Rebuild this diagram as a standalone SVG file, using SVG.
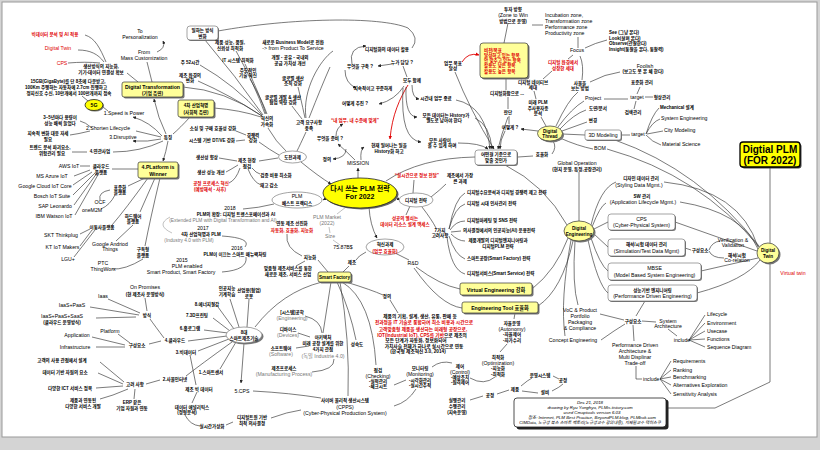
<svg xmlns="http://www.w3.org/2000/svg" width="820" height="450" viewBox="0 0 820 450">
<defs>
<style>
text{font-family:"Liberation Sans","Noto Sans CJK KR",sans-serif;font-size:5.2px;fill:#000;text-anchor:middle}
.k{font-size:4.5px;font-weight:600}
.r{fill:#e00000}
.g{fill:#777}
.s{text-anchor:start}
.b{font-weight:bold}
.i{font-style:italic}
.ln{fill:none;stroke:#333;stroke-width:.65}
.lg{fill:none;stroke:#999;stroke-width:.6}
.lr{fill:none;stroke:#e00000;stroke-width:.9}
.ar{marker-end:url(#ah)}
.yb{fill:#ffff99;stroke:#333;stroke-width:.7}
.yy{fill:#ffff00;stroke:#222;stroke-width:.8}
.wb{fill:#fff;stroke:#666;stroke-width:.6}
.sh{fill:#777}
</style>
<marker id="ah" viewBox="0 0 6 6" refX="5.5" refY="3" markerWidth="5" markerHeight="5" orient="auto"><path d="M0,0L6,3L0,6z" fill="#222"/></marker>
<marker id="ahr" viewBox="0 0 6 6" refX="5.5" refY="3" markerWidth="4" markerHeight="4" orient="auto"><path d="M0,0L6,3L0,6z" fill="#e00000"/></marker>
</defs>
<rect width="820" height="450" fill="#d4d4d4"/>
<rect x="2" y="2" width="815" height="435" fill="#fff" stroke="#999" stroke-width="1"/>

<g id="connectors">
<path class="ln" d="M106,62C100,48 95,38 85,35M104,62C98,54 90,50 78,50M100,63C90,62 80,62 68,63M127,73L138,82M152,82L147,62"/>
<path class="ln ar" d="M157,52Q166,48 163,41"/>
<path class="ln ar" d="M166,134Q158,118 154,99"/>
<path class="ln ar" d="M162,136Q150,122 133,117"/>
<path class="ln" d="M161,137L136,131M163,141Q140,152 113,152M190,117Q180,128 173,134M103,107L108,111M88,101L82,96M92,128Q85,122 80,121M90,131Q78,134 70,135M87,152L72,152"/>
<path class="ln ar" d="M161,139Q148,142 133,141"/>
<path class="ln ar" d="M168,141Q166,152 163,161"/>
<path class="ln" d="M183,87Q225,90 262,116M214,108Q240,110 261,117M205,40Q235,75 263,115M200,65Q235,85 262,115M198,81Q230,95 262,116M236,51Q255,85 265,114M245,64Q260,95 266,114M250,79Q262,100 267,114M268,128Q276,142 286,151M259,142Q270,150 279,155M236,131L246,135M236,141L245,140M306,132Q300,145 297,151M306,118C302,90 320,60 333,51M309,118Q322,85 330,67M305,118Q300,95 298,87M302,119Q295,110 292,106M218,31C290,18 380,16 408,28Q420,38 412,48"/>
<path class="ln" d="M278,158L259,161M237,161L219,158M238,165Q230,170 226,172M240,168Q236,180 229,183M252,168Q256,173 260,174M248,169Q253,182 261,185"/>
<path class="ln ar" d="M301,162Q318,176 331,184"/>
<path class="ln ar" d="M327,198L323,200"/>
<path class="ln" d="M274,204Q258,208 243,209M222,236Q252,238 245,247M246,257Q248,270 222,272"/>
<path class="lg" d="M170,217Q155,225 172,233"/>
<path class="ln ar" d="M358,178L358,168"/>
<path class="ln ar" d="M346,149Q346,158 333,159"/>
<path class="ln ar" d="M355,160Q345,150 338,144"/>
<path class="ln ar" d="M361,160Q360,150 364,147"/>
<path class="ln ar" d="M336,136Q336,128 343,124"/>
<path class="ln ar" d="M404,86Q395,100 379,104"/>
<path class="ln ar" d="M345,70Q345,83 356,88"/>
<path class="ln ar" d="M392,64L378,66"/>
<path class="ln ar" d="M352,64Q348,47 366,46"/>
<path class="ln" d="M403,66L407,77"/>
<path class="lr" marker-end="url(#ahr)" d="M408,85C400,98 392,115 390,139"/>
<path class="ln ar" d="M412,85Q412,98 419,99"/>
<path class="ln ar" d="M406,87Q405,117 417,117"/>
<path class="ln ar" d="M403,88Q400,140 421,142"/>
<path class="ln ar" d="M456,100Q486,106 490,149"/>
<path class="ln ar" d="M475,118Q490,125 492,149"/>
<path class="ln ar" d="M458,143Q480,143 488,149"/>
<path class="ln ar" d="M455,72Q470,110 494,149"/>
<path class="ln ar" d="M508,117Q501,135 498,149"/>
<path class="ln ar" d="M505,131Q500,140 500,149"/>
<path class="lr" marker-end="url(#ahr)" d="M462,62Q468,52 479,55"/>
<path class="ln" d="M506,78L506,90M508,97L508,109M509,116L509,124M508,23L504,43M532,25L543,25M578,48L578,37M585,48Q595,43 607,40M573,55L568,59M552,71L543,79M534,91L536,99M582,80Q584,65 580,56M590,82Q605,74 620,72M556,126Q568,100 578,92M546,126L541,117"/>
<path class="ln ar" d="M538,131L521,129"/>
<path class="ln" d="M558,127Q572,108 584,101M560,129Q574,114 586,110M562,131L587,122M562.5,134L585,135M560,138Q578,146 593,149M604,99L628,99M637,94L640,87M645,97L653,97M636,101L634,109M621,135L630,135M646,134Q652,115 659,108M646,134Q652,122 660,119M647,134L663,131M646,135Q652,142 661,145M615,140Q700,170 759,246M607,149Q700,175 760,248M518,157L533,156M552,154Q557,147 553,141M579,172L579,221M505,165Q545,185 567,225M386,181Q420,158 475,157"/>
<path class="ln ar" d="M396,197Q398,199 400,200"/>
<path class="ln" d="M413,193L414,180M431,197Q440,190 446,184M410,206L406,215M422,207Q432,220 436,228M449,229Q455,198 465,193M449,229Q455,207 465,204M450,230Q456,221 465,221M451,232L461,231M451,234Q458,241 465,241M449,236Q455,255 465,259M447,237Q451,270 465,274"/>
<path class="ln ar" d="M369,207Q370,225 377,238"/>
<path class="lg" d="M346,207L337,214M329,227L330,233M333,240L340,245"/>
<path class="ln" d="M395,253L409,260M416,267Q440,285 460,289M414,268Q440,305 462,308M532,289Q556,270 568,238M538,306Q562,290 573,241M366,252Q358,256 356,260M349,266L343,272M318,260L328,272M302,256Q285,248 287,234M305,261L296,266M346,282Q372,290 383,295M390,300L398,313M322,282Q282,292 255,327M331,282L323,333M337,282Q350,310 356,340M342,282Q372,300 376,365M340,282Q350,340 348,396M305,316Q321,320 322,333M298,333L310,337M296,348L309,346M312,372Q335,370 334,359"/>
<path class="ln" d="M234,329L218,307M230,331L213,318M228,333L204,330M227,336L188,341M229,339L198,351M236,342L220,369M232,342Q200,365 186,376M230,299L239,327M249,299L247,327"/>
<path class="ln ar" d="M244,343L241,383"/>
<path class="ln" d="M164,338Q155,326 150,319M161,341L149,344M147,311L145,298M140,313L108,299M139,315L90,307M136,317L96,318M130,343L118,334M125,345L92,337M125,347L96,347M160,380L146,384M124,382L100,362M123,384L98,373M123,386L96,388M128,389Q112,396 100,399M135,389L134,399M190,355L196,385M197,392L192,403M185,415Q190,425 200,426M253,391Q290,393 321,398M271,418Q287,412 301,410M233,422L226,425M394,406Q408,402 416,389M394,385L406,380M432,367Q441,360 452,363M470,378Q484,386 495,377M500,352L507,344M515,313L514,319M509,390L497,394M521,386Q528,380 532,378M522,391L538,393M553,376L559,379M552,391Q560,387 563,384M483,396L470,400"/>
<path class="ln" d="M600,314L624,320M601,340Q615,330 625,324M645,301L636,316M642,321L656,322M633,325L634,341M668,329L677,336M689,340L705,315M689,340L705,323M689,340L705,331M689,340L705,339M689,340L705,347M636,366L636,379L642,379M660,379L671,361M660,379L671,370M660,379L671,377M660,379L671,385M660,379L671,394M575,241Q572,285 578,305M571,240Q560,300 565,336"/>
<path class="ln" d="M591,225Q600,188 616,182M592,227Q600,206 606,203M594,229L608,222M594,234L608,247M591,238Q600,265 608,271M588,240Q598,285 608,293M664,182Q740,190 758,247M680,202Q742,212 758,249M675,222L757,251M701,271L758,258M697,293Q745,280 760,260M685,248L691,250M709,250Q712,242 720,241M709,251Q712,258 724,258M770,167L770,243M770,263L770,382L715,408L668,408"/>
<path class="ln" d="M139,169L112,169M145,178L128,186M148,178Q125,210 112,225M155,178L140,212M160,178Q150,220 145,246M133,225L116,241M143,259Q125,270 112,269M90,166L80,166M90,170L74,176M92,172L73,185M95,173L73,195M97,173L74,205M99,173L75,215M110,190Q98,192 100,200M115,195Q110,205 101,209M90,229L80,234M92,230L80,246M95,230L74,257"/>
</g>

<g id="n-bigdata"><text class="k r" x="55" y="36">빅데이터 분석 및 AI 적용</text></g>
<g id="n-dtwin-red"><text class="r" x="58" y="50">Digital Twin</text></g>
<g id="n-cps-red"><text class="r" x="62" y="65">CPS</text></g>
<g id="n-to"><text x="140" y="33">To</text><text x="140" y="39">Personalization</text></g>
<g id="n-from"><text x="144" y="54">From</text><text x="144" y="60">Mass Customization</text></g>
<g id="n-smartprod"><text class="k" x="101" y="68">생산방식의 지능화,</text><text class="k" x="101" y="74">기기-데이터 연결성 확보</text></g>
<g id="n-15gb"><text class="k" x="68" y="83">15GB(GigaByte)를 단 8초에 다운받고,</text><text class="k" x="66" y="89">100Km 주행하는 자동차에 2.7cm 진행하고</text><text class="k" x="69" y="95">정지신호 수신, 10만개에서 100만개까지 접속</text></g>
<g id="n-5g"><ellipse cx="95" cy="106" rx="9" ry="5.5" class="sh"/><ellipse cx="94" cy="105" rx="9" ry="5.5" class="yy"/><text class="b" x="94" y="107">5G</text></g>
<g id="n-speed"><text x="124" y="115">1.Speed is Power</text></g>
<g id="n-3to5"><text class="k" x="60" y="119">3~5년마다 용량이</text><text class="k" x="60" y="125">성능 배씩 늘었다</text></g>
<g id="n-shorten"><text x="108" y="130">2.Shorten Lifecycle</text></g>
<g id="n-continuous"><text class="k" x="48" y="135">지속적 변화 대응 자세</text><text class="k" x="48" y="141">필요</text></g>
<g id="n-disruptive"><text x="123" y="139">3.Disruptive</text></g>
<g id="n-trend"><text class="k" x="50" y="149">트렌드 분석 파괴요소,</text><text class="k" x="52" y="155">위험관리 필요</text></g>
<g id="n-related"><text class="k" x="100" y="153">4.연관사업</text></g>
<g id="n-feature"><text class="k" x="168" y="139">특징</text></g>
<g id="n-dt"><rect x="123.5" y="83.5" width="61" height="15" rx="2" class="sh"/><rect x="122" y="82" width="61" height="15" rx="2" class="yb"/><text class="b" x="152.5" y="88.5">Digital Transformation</text><text class="k b" x="152.5" y="95">(기업 측면)</text></g>
<g id="n-4ir"><rect x="179.5" y="101.5" width="36" height="17" rx="2" class="sh"/><rect x="178" y="100" width="36" height="17" rx="2" class="yb"/><text class="k b" x="196" y="107">4차 산업혁명</text><text class="k b" x="196" y="114">(사회적 측면)</text></g>
<g id="n-work"><rect x="188" y="27" width="31" height="14" rx="3" class="sh"/><rect x="187" y="26" width="31" height="14" rx="3" class="wb"/><text class="k" x="202.5" y="32">일하는 방식</text><text class="k" x="202.5" y="38">변화</text></g>
<g id="n-52h"><text class="k" x="190" y="64">주 52시간</text></g>
<g id="n-mfgenv"><text class="k" x="190" y="77">제조 환경의</text><text class="k" x="190" y="82">변화</text></g>
<g id="n-perf"><text class="k" x="230" y="44">제품 성능, 품질,</text><text class="k" x="230" y="50">신뢰성 최적화</text></g>
<g id="n-it"><text class="k" x="238" y="62">IT 시스템 최적화</text></g>
<g id="n-lead"><text class="k" x="248" y="72">주도적인</text><text class="k" x="248" y="77">기술 혁신</text></g>
<g id="n-bm"><text class="k" x="293" y="44">새로운 Business Model로 전환</text><text x="293" y="50">-&gt; from Product To Service</text></g>
<g id="n-dev"><text class="k" x="290" y="59">개발 - 공유 - 국내외</text><text class="k" x="290" y="65">공급 가치성 개선</text></g>
<g id="n-gprod"><text class="k" x="293" y="80">글로벌 생산</text><text class="k" x="293" y="85">조직 강화</text></g>
<g id="n-gdev"><text class="k" x="283" y="99">글로벌 개발 &amp; 생산</text><text class="k" x="283" y="104">협업 역량 강화</text></g>
<g id="n-accel"><text class="k" x="267" y="120">혁신의</text><text class="k" x="267" y="126">가속화</text></g>
<g id="n-cust"><text class="k" x="309" y="124">고객 요구사항</text><text class="k" x="309" y="130">충족</text></g>
<g id="n-sourcing"><text class="k" x="213" y="130">소싱 및 구매 효율성 강화</text></g>
<g id="n-sysdt"><text class="k" x="212" y="142">시스템 기반 DT/VE 강화</text></g>
<g id="n-compet"><text class="k" x="253" y="137">경쟁력</text><text class="k" x="253" y="142">강화</text></g>
<g id="n-prepare"><text class="k" x="330" y="140">무엇을 준비 ?</text></g>

<g id="n-digdata"><text class="k" x="387" y="51">디지털화의 데이터 활용</text></g>
<g id="n-build"><text class="k" x="360" y="68">무엇을 구축 ?</text></g>
<g id="n-who"><text class="k" x="402" y="64">누가 담당 ?</text></g>
<g id="n-steady"><text class="k" x="373" y="90">지속적이고 꾸준하게</text></g>
<g id="n-together"><text class="k" x="412" y="82">모두 함께</text></g>
<g id="n-how"><text class="k" x="355" y="105">어떻게 추진 ?</text></g>
<g id="n-mylevel"><text class="k r b" x="355" y="122">“내 업무, 내 수준에 맞게”</text></g>
<g id="n-history"><text class="k" x="389" y="147">현재 일어나는 일을</text><text class="k" x="389" y="153">History화 하고</text></g>
<g id="n-worktime"><text class="k" x="436" y="100">시간내 업무 종료</text></g>
<g id="n-alldata"><text class="k" x="446" y="117">모든 데이터는 History가</text><text class="k" x="444" y="122">별도로 남아야 한다</text></g>
<g id="n-allpeople"><text class="k" x="440" y="142">모든 사람이</text><text class="k" x="442" y="147">볼 수 있게 하며</text></g>
<g id="n-goal"><text class="k" x="453" y="65">업무 목표</text><text class="k" x="453" y="70">달성</text></g>
<g id="n-vision"><rect x="481.5" y="44.5" width="48" height="35" rx="3" class="sh"/><rect x="480" y="43" width="48" height="35" rx="3" class="yb"/><text class="k s r" x="484" y="51.5">비전/목표</text><text class="k s r" x="484" y="57">달성하고 있는 항목</text><text class="k s r" x="484" y="62">안 맞추고 있는 항목</text><text class="k s r" x="484" y="67">활용도 낮은 항목</text><text class="k s r" x="484" y="72.5">활용도 높은 항목</text></g>
<g id="n-invest"><text class="k" x="513" y="11">투자 방향</text><text x="513" y="17">(Zone to Win</text><text class="k" x="513" y="22.5">방법으로 운영)</text></g>
<g id="n-zones"><text class="s" x="545" y="17">Incubation zone,</text><text class="s" x="545" y="23">Transformation zone</text><text class="s" x="545" y="29">Performance zone</text><text class="s" x="545" y="34.5">Productivity zone</text></g>
<g id="n-focus"><text x="577" y="52">Focus</text></g>
<g id="n-native-red"><text class="k r" x="563" y="64">디지털 환경에서</text><text class="k r" x="563" y="70">성장한 세대</text></g>
<g id="n-native"><text class="k" x="533" y="84">디지털 네이티브</text><text class="k" x="533" y="89">세대</text></g>
<g id="n-digharm"><text class="k" x="507" y="95">디지털화합으로 ...</text></g>
<g id="n-future"><text class="k" x="538" y="104">미래 PLM</text><text class="k" x="538" y="109.5">주사용자층</text><text class="k" x="538" y="115">분석</text></g>
<g id="n-seeing"><text class="k" x="580" y="85">사물을</text><text class="k" x="580" y="90">보는 방법</text></g>
<g id="n-judge"><text class="k" x="508" y="114">판단</text></g>
<g id="n-howq"><text class="k" x="510" y="129">어떻게 ?</text></g>
<g id="n-thread"><ellipse cx="551.5" cy="135" rx="12.5" ry="7.5" class="sh"/><ellipse cx="550" cy="133.5" rx="12.5" ry="7.5" class="yb"/><text class="b" x="550" y="132.5" style="font-size:4.6px">Digital</text><text class="b" x="550" y="138" style="font-size:4.6px">Thread</text></g>
<g id="n-project"><text x="593" y="100">Project</text></g>
<g id="n-drawing"><text class="k" x="598" y="110">도면/문서</text></g>
<g id="n-change"><text class="k" x="593" y="122">변경</text></g>
<g id="n-3dm"><rect x="586" y="131" width="36" height="10" rx="2" class="sh"/><rect x="585" y="130" width="36" height="10" rx="2" class="wb"/><text x="603" y="137">3D Modeling</text></g>
<g id="n-bom"><text x="600" y="150">BOM</text></g>
<g id="n-see"><text class="k s" x="609" y="34">See (그냥 본다)</text><text class="k s" x="609" y="40">Look(살펴 본다)</text><text class="k s" x="609" y="45">Observe(관찰한다)</text><text class="k s" x="609" y="50.5">Insight(통찰을 본다, 통찰력)</text></g>
<g id="n-foolish"><text x="645" y="68">Foolish</text><text class="k" x="643" y="73">(보고도 못 본 체 한다)</text></g>
<g id="n-std"><text class="k" x="642" y="84">표준화 관리</text></g>
<g id="n-target1"><text x="637" y="99">target</text><text class="k" x="662" y="98.5">형상관리</text></g>
<g id="n-search"><text class="k" x="633" y="114">검색관리</text></g>
<g id="n-target2"><text x="638" y="136">target</text></g>
<g id="n-mech"><text class="k s" x="660" y="109">Mechanical 설계</text></g>
<g id="n-syseng"><text class="s" x="661" y="120">System Engineering</text></g>
<g id="n-city"><text class="s" x="664" y="132">City Modeling</text></g>
<g id="n-material"><text class="s" x="662" y="146">Material Science</text></g>

<g id="n-plm"><rect x="741.5" y="143.5" width="60" height="25" rx="3" fill="#444"/><rect x="740" y="142" width="60" height="25" rx="3" fill="#ffff00" stroke="#000" stroke-width="1.3"/><text class="b" x="770" y="153" style="font-size:10px">Digtial PLM</text><text class="b" x="770" y="164" style="font-size:10px">(FOR 2022)</text></g>

<g id="n-main"><ellipse cx="361.5" cy="194.5" rx="37" ry="15" fill="#666"/><ellipse cx="360" cy="193" rx="37" ry="15" class="yy"/><text class="b" x="360" y="190.5" style="font-size:7px">다시 쓰는 PLM 전략</text><text class="b" x="360" y="199" style="font-size:7px">For 2022</text></g>
<g id="n-best"><ellipse cx="297" cy="200" rx="25" ry="8" class="wb"/><text x="297" y="198">PLM</text><text class="k" x="297" y="205">베스트 프랙티스</text></g>
<g id="n-challenge"><ellipse cx="292.5" cy="157" rx="14" ry="6" class="wb"/><text class="k" x="292.5" y="159">도전과제</text></g>
<g id="n-define"><text class="k" x="327" y="161">정의</text></g>
<g id="n-mission"><text x="358" y="165">MISSION</text></g>
<g id="n-site"><text class="k" x="247" y="162">제조 현장</text><text class="k" x="247" y="168">점검</text></g>
<g id="n-produp"><text class="k" x="207" y="159">생산성 향상</text></g>
<g id="n-perfimp"><text class="k" x="211" y="174">생산 성능 개선</text></g>
<g id="n-process"><text class="k r b" x="211" y="185">공정 프로세스 혁신</text><text class="k r b" x="210" y="191">(예방해석 - 사후)</text></g>
<g id="n-verif"><text class="k" x="276" y="177">검증 비용 최소화</text></g>
<g id="n-inv"><text class="k" x="269" y="187">재고 감소</text></g>
<g id="n-2018"><text x="230" y="210">2018</text><text class="k" x="236" y="216">PLM의 확장: 디지털 트랜스포메이션과 AI</text><text class="g" x="223" y="222" style="font-size:4.8px">(Extended PLM with Digital Transformation and AI)</text></g>
<g id="n-2017"><text x="203" y="230">2017</text><text class="k" x="201" y="236">4차 산업혁명과 PLM</text><text class="g" x="189" y="242" style="font-size:4.8px">(Industry 4.0 with PLM)</text></g>
<g id="n-2016"><text x="237" y="250">2016</text><text class="k" x="235" y="256">PLM이 이끄는 스마트 매뉴팩처링</text></g>
<g id="n-2015"><text x="182" y="262">2015</text><text x="187" y="268">PLM enabled</text><text x="181" y="274">Smart Product, Smart Factory</text></g>
<g id="n-market"><text class="g" x="327" y="219">PLM Market</text><text class="g" x="327" y="225">(2022)</text><text class="g" x="330" y="238">Size</text><text x="343" y="249">75.87B$</text></g>
<g id="n-linked"><text class="k" x="292" y="225">연동 제조 선진화</text><text class="k r b" x="292" y="232">자동화, 효율화, 지능화</text></g>
<g id="n-intel"><text class="k" x="310" y="259">지능화</text></g>
<g id="n-custom"><text class="k" x="288" y="270">맞춤형 제조서비스를 통한</text><text class="k" x="288" y="276">새로운 제조, 서비스 산업</text></g>
<g id="n-mfg"><text class="k" x="352" y="264">제조</text></g>
<g id="n-sf"><rect x="319.5" y="273.5" width="33" height="10" rx="2" class="sh"/><rect x="318" y="272" width="33" height="10" rx="2" class="yb"/><text class="b" x="334.5" y="278.8" style="font-size:4.6px">Smart Factory</text></g>
<g id="n-define2"><text class="k" x="387" y="298">정의</text></g>
<g id="n-digstrat"><ellipse cx="416" cy="200" rx="17" ry="7" class="wb"/><text class="k" x="416" y="202">디지털 전략</text></g>
<g id="n-realtime"><text class="k r b" x="417" y="177">“실시간으로 정보 전달”</text></g>
<g id="n-bigtask"><text class="k" x="460" y="177">제조에서 가장</text><text class="k" x="460" y="183">큰 과제</text></g>
<g id="n-key"><text class="k r b" x="405" y="220">성공의 열쇠는</text><text class="k r b" x="405" y="226">데이터 리소스 설계 액세스</text></g>
<g id="n-innov"><ellipse cx="385" cy="247" rx="19" ry="8" class="wb"/><text class="k" x="385" y="246">혁신과제</text><text class="k r b" x="385" y="252.5">(업무 효율화)</text></g>
<g id="n-seven"><text class="k" x="440" y="232">7가지</text><text class="k" x="440" y="237">고려사항</text></g>
<g id="n-list7"><text class="k s" x="467" y="194">디지털수요분석과 디지털 경쟁력 제고 전략</text><text class="k s" x="467" y="205">디지털 시대 인사관리 전략</text><text class="k s" x="467" y="222">디지털마케팅 및 SNS 전략</text><text class="k s" x="463" y="232">의사결정에서의 인공지능(AI) 운용전략</text><text class="k" x="498" y="242">제품개발의 디지털엔지니어링과</text><text class="k" x="498" y="248">디지털PLM 전략</text><text class="k s" x="467" y="260">스마트공장(Smart Factory) 전략</text><text class="k s" x="467" y="275">디지털서비스(Smart Service) 전략</text></g>
<g id="n-rnd"><text x="413" y="265">R&amp;D</text></g>
<g id="n-ve"><rect x="461.5" y="284.5" width="72" height="12" rx="2" class="sh"/><rect x="460" y="283" width="72" height="12" rx="2" class="yb"/><text class="b" x="496" y="291.5">Virtual Engineering 강화</text></g>
<g id="n-et"><rect x="463.5" y="303.5" width="76" height="11" rx="2" class="sh"/><rect x="462" y="302" width="76" height="11" rx="2" class="yb"/><text class="b" x="500" y="309.8">Engineering Tool 효율화</text></g>
<g id="n-criteria"><rect x="476" y="151" width="42" height="15" rx="3" class="sh"/><rect x="475" y="150" width="42" height="15" rx="3" class="wb"/><text class="k" x="496" y="156">어떤걸 기준으로</text><text class="k" x="496" y="162">맞출 것인가</text></g>
<g id="n-eff"><text class="k" x="542" y="156">효율화</text></g>
<g id="n-global"><text x="577" y="165">Global Operation</text><text class="k" x="577" y="170.5">(현지 운영, 특정,공장관리)</text></g>
<g id="n-de"><ellipse cx="580.5" cy="232.5" rx="15" ry="10" class="sh"/><ellipse cx="579" cy="231" rx="15" ry="10" class="yb"/><text class="b" x="579" y="230" style="font-size:4.6px">Digital</text><text class="b" x="579" y="236" style="font-size:4.6px">Engineering</text></g>

<g id="n-styling"><text class="k" x="641" y="180">디자인 데이터 관리</text><text x="639" y="187">(Styling Data Mgmt.)</text></g>
<g id="n-sw"><text class="k" x="642" y="198">SW 관리</text><text x="643" y="204">(Application Lifecycle Mgmt.)</text></g>
<g id="n-cps"><rect x="609" y="215" width="67" height="16" rx="3" class="sh"/><rect x="608" y="214" width="67" height="16" rx="3" class="wb"/><text x="641.5" y="220.5">CPS</text><text x="641.5" y="227">(Cyber-Physical System)</text></g>
<g id="n-sim"><rect x="609" y="240" width="77" height="17" rx="3" class="sh"/><rect x="608" y="239" width="77" height="17" rx="3" class="wb"/><text class="k" x="646.5" y="246">해석/시험 데이터 관리</text><text x="646.5" y="253">(Simulation/Test Data Mgmt)</text></g>
<g id="n-comp1"><text class="k" x="700" y="252">구성요소</text></g>
<g id="n-verval"><text x="733" y="242">Verification &amp;</text><text x="733" y="247">Validation</text></g>
<g id="n-corel"><text class="k" x="737" y="257">해석/시험</text><text x="737" y="262">Co-relation</text></g>
<g id="n-mbse"><rect x="609" y="264" width="93" height="17" rx="3" class="sh"/><rect x="608" y="263" width="93" height="17" rx="3" class="wb"/><text x="654.5" y="270">MBSE</text><text x="654.5" y="277">(Model Based System Engineering)</text></g>
<g id="n-pde"><rect x="609" y="286" width="89" height="16" rx="3" class="sh"/><rect x="608" y="285" width="89" height="16" rx="3" class="wb"/><text class="k" x="652.5" y="291.5">성능기반 엔지니어링</text><text x="652.5" y="298">(Performance Driven Engineering)</text></g>
<g id="n-twin"><ellipse cx="769.5" cy="254.5" rx="11" ry="10" class="sh"/><ellipse cx="768" cy="253" rx="11" ry="10" class="yb"/><text class="b" x="768" y="252" style="font-size:4.6px">Digital</text><text class="b" x="768" y="258" style="font-size:4.6px">Twin</text></g>
<g id="n-vtwin"><text class="r" x="793" y="275">Virtual twin</text></g>

<g id="n-voc"><text x="580" y="312">VoC &amp; Product</text><text x="580" y="318">Portfolio</text><text x="580" y="324">Packaging</text><text x="580" y="329.5">&amp; Compliance</text></g>
<g id="n-concept"><text x="573" y="342">Concept Engineering</text></g>
<g id="n-comp2"><text class="k" x="633" y="323">구성요소</text></g>
<g id="n-sysarch"><text x="668" y="323">System</text><text x="668" y="328">Architecture</text></g>
<g id="n-include1"><text x="682" y="342">include</text></g>
<g id="n-list1"><text class="s" x="707" y="316">Lifecycle</text><text class="s" x="707" y="325">Environment</text><text class="s" x="707" y="333">Usecase</text><text class="s" x="707" y="341">Functions</text><text class="s" x="707" y="349">Sequence Diagram</text></g>
<g id="n-pda"><text x="635" y="347">Performance Driven</text><text x="635" y="353">Architecture &amp;</text><text x="635" y="358.5">Multi Displinar</text><text x="635" y="364.5">Trade-off</text></g>
<g id="n-include2"><text class="s" x="643" y="381">include</text></g>
<g id="n-list2"><text class="s" x="673" y="363">Requirements</text><text class="s" x="673" y="372">Ranking</text><text class="s" x="673" y="379">Benchmarking</text><text class="s" x="673" y="387">Alternatives Exploration</text><text class="s" x="673" y="396">Sensitivity Analysis</text></g>

<g id="n-auto"><text class="k" x="512" y="325">자율운영</text><text x="512" y="331">(Autonomy)</text><text class="k" x="512" y="336">-자율제어</text><text class="k" x="512" y="342">-자가수리</text></g>
<g id="n-opt"><text class="k" x="498" y="359">최적화</text><text x="498" y="365">(Optimization)</text><text class="k" x="498" y="370">-지능화</text><text class="k" x="498" y="376">-최적화</text></g>
<g id="n-control"><text class="k" x="460" y="368">제어</text><text x="460" y="374">(Control)</text><text class="k" x="460" y="379">-예상조치</text><text class="k" x="460" y="384">-원격제어</text></g>
<g id="n-monitor"><text class="k" x="420" y="370">모니터링</text><text x="420" y="376">(Monitoring)</text><text class="k" x="420" y="382">-시각화관리</text><text class="k" x="420" y="387">-실시간추적</text></g>
<g id="n-opsys"><text class="k" x="540" y="377">운영시스템</text></g>
<g id="n-proc1"><text class="k" x="563" y="382">공정</text></g>
<g id="n-product"><text class="k" x="515" y="391">제품</text></g>
<g id="n-equip"><text class="k" x="545" y="394">설비</text></g>
<g id="n-proc2"><text class="k" x="490" y="397">공정</text></g>
<g id="n-exec"><text class="k" x="457" y="402">실행관리</text><text class="k" x="457" y="408">수행관리</text><text class="k" x="457" y="414">(지속운영)</text></g>

<g id="n-sfdef">
<text class="k" x="420" y="317.5" style="font-size:4.7px">제품의 기획, 설계, 생산, 유통, 판매 등</text>
<text class="k r b" x="424" y="324" style="font-size:4.7px">전과정을 IT 기술로 통합하여 최소 비용과 시간으로</text>
<text class="k r b" x="423" y="330.5" style="font-size:4.7px">고객맞춤형 제품을 생산하는 미래형 공장으로,</text>
<text class="k" x="422" y="336.5" style="font-size:4.7px"><tspan class="r b">IOT(Industrial IoT), CPS를 기반</tspan>으로 제조의</text>
<text class="k" x="416" y="342" style="font-size:4.7px">모든 단계가 자동화, 정보화되어</text>
<text class="k" x="424" y="347.5" style="font-size:4.7px">가치사슬 전체가 하나로 실시간으로 연동</text>
<text class="k" x="418" y="353" style="font-size:4.7px">(한국형 제조혁신 3.0, 2014)</text>
</g>

<g id="n-info"><rect x="516.5" y="399.5" width="152" height="30" rx="3" fill="#222"/><rect x="514" y="398" width="152" height="29" rx="3" fill="#fff" stroke="#222" stroke-width=".8"/>
<text class="i" x="590" y="404" style="font-size:4.4px">Dec 21, 2018</text>
<text class="i" x="590" y="409" style="font-size:4.4px">drawing by Ryu Yonghyo, PLMis.tistory.com</text>
<text class="i" x="592" y="414" style="font-size:4.4px">used Cmaptools version 6.03</text>
<text class="i" x="592" y="419" style="font-size:4.4px">참조: Internet, PLM Best Practice, BeyondPLM.blog, PLMbok.com</text>
<text class="i" x="590" y="424" style="font-size:4.2px">CIMData, 노규성 북스 스마트 팩토리(노규성교수 강의내용), 지제릴교수 택이스쿠</text></g>

<g id="n-8tech"><ellipse cx="245.5" cy="336.5" rx="18" ry="8" class="sh"/><ellipse cx="244" cy="335" rx="18" ry="8" class="wb"/><text class="k b" x="244" y="333.5">8대</text><text class="k b" x="244" y="339.5">스마트제조기술</text></g>
<g id="n-t8"><text class="k" x="207" y="306">8.에너지절감</text></g>
<g id="n-t7"><text class="k" x="197" y="317">7.3D프린팅</text></g>
<g id="n-t6"><text class="k" x="190" y="330">6.홀로그램</text></g>
<g id="n-t4"><text class="k" x="175" y="342">4.클라우드</text></g>
<g id="n-t3"><text class="k" x="186" y="354">3.빅데이터</text></g>
<g id="n-t1"><text class="k" x="211" y="374">1.스마트센서</text></g>
<g id="n-t2"><text class="k" x="175" y="381">2.사물인터넷</text></g>
<g id="n-t5"><text x="242" y="393">5.CPS</text></g>
<g id="n-ai"><text class="k" x="227" y="290">인공지능</text><text class="k" x="227" y="296">기계학습</text></g>
<g id="n-robot"><text class="k" x="249" y="292">산업용(협업)</text><text class="k" x="249" y="298">로봇</text></g>
<g id="n-mfgbig"><text class="k" x="199" y="391">제조 빅 데이터</text></g>
<g id="n-analytics"><text class="k" x="192" y="409">데이터 애널리틱스</text><text class="k" x="187" y="414">(정형분석)</text></g>
<g id="n-realvirt"><text class="k" x="212" y="428">실시간가상화</text></g>
<g id="n-dtdecision"><text class="k" x="252" y="419">디지털트윈 기반</text><text class="k" x="252" y="425">최적 의사결정</text></g>
<g id="n-eng"><text class="k" x="292" y="314">[시스템]공학</text><text class="g" x="292" y="320">(Engineering)</text></g>
<g id="n-dev2"><text class="k" x="288" y="331">디바이스</text><text class="g" x="288" y="337">(Devices)</text></g>
<g id="n-sw2"><text class="k" x="281" y="350">소프트웨어</text><text class="g" x="281" y="355.5">(Software)</text></g>
<g id="n-mproc"><text class="k" x="284" y="370">제조프로세스</text><text class="g" x="284" y="376">(Manufacturing Process)</text></g>
<g id="n-arch"><text class="k b" x="323" y="339">아키텍처</text><text class="k" x="323" y="345">미래 공장 설계를 위한</text><text class="k" x="323" y="350.5">4가지 관점</text><text class="g" x="323" y="357.5">(독일 Industrie 4.0)</text></g>
<g id="n-maturity"><text class="k" x="357" y="346">성숙도</text></g>
<g id="n-check"><text class="k" x="378" y="372">점검</text><text x="378" y="377.5">(Checking)</text><text class="k" x="378" y="382.5">-실적관리</text><text class="k" x="378" y="388">-체크시트</text></g>
<g id="n-cpps"><text class="k" x="345" y="402">사이버 물리적 생산시스템</text><text x="345" y="408.5">(CPPS)</text><text x="345" y="414.5">(Cyber-Physical Production System)</text></g>

<g id="n-onprem"><text x="145" y="289">On Promises</text><text class="k" x="145" y="296">(현 제조사 운영방식)</text></g>
<g id="n-iaas"><text x="103" y="298">Iaas</text></g>
<g id="n-iaaspaas"><text x="72" y="307">IaaS+PaaS</text></g>
<g id="n-iaassaas"><text x="62" y="318">IaaS+PaaS+SaaS</text><text class="k" x="62" y="324">(클라우드 운영방식)</text></g>
<g id="n-method"><text class="k" x="147" y="317">방식</text></g>
<g id="n-platform2"><text x="110" y="333">Platform</text></g>
<g id="n-app"><text x="77" y="337">Application</text></g>
<g id="n-infra"><text x="75" y="349">Infrastructure</text></g>
<g id="n-comp3"><text class="k" x="137" y="347">구성요소</text></g>
<g id="n-cons1"><text class="k" x="62" y="362">고객의 사용 관점에서 설계</text></g>
<g id="n-cons2"><text class="k" x="65" y="374">데이터 기반 자원의 요소</text></g>
<g id="n-cons3"><text class="k" x="70" y="390">다양한 ICT 서비스 접목</text></g>
<g id="n-consider"><text class="k" x="135" y="386">고려 사항</text></g>
<g id="n-cons4"><text class="k" x="83" y="402">제품과 연동된</text><text class="k" x="83" y="408">다양한 서비스 개발</text></g>
<g id="n-cons5"><text class="k" x="132" y="404">ERP 같은</text><text class="k" x="132" y="410">기업 자원과 연동</text></g>

<g id="n-platform"><rect x="139.5" y="163.5" width="40" height="16" rx="2" class="sh"/><rect x="138" y="162" width="40" height="16" rx="2" class="yb"/><text class="b" x="158" y="169">4.PLatform is</text><text class="b" x="158" y="175.5">Winner</text></g>
<g id="n-cloud"><text class="k" x="101" y="168">클라우드</text><text class="k" x="101" y="174">플랫폼</text></g>
<g id="n-aws"><text x="69" y="168">AWS IoT</text></g>
<g id="n-azure"><text x="52" y="178">MS Azure IoT</text></g>
<g id="n-gcloud"><text x="45" y="188">Google Cloud IoT Core</text></g>
<g id="n-bosch"><text x="52" y="198">Bosch IoT Suite</text></g>
<g id="n-sap"><text x="55" y="208">SAP Leonardo</text></g>
<g id="n-ibm"><text x="54" y="218">IBM Watson IoT</text></g>
<g id="n-stdplat"><text class="k" x="120" y="189">표준화</text><text class="k" x="120" y="194">플랫폼</text></g>
<g id="n-ocf"><text x="100" y="204">OCF</text></g>
<g id="n-onem2m"><text x="92" y="212">oneM2M</text></g>
<g id="n-telco"><text class="k" x="102" y="229">이통사플랫폼</text></g>
<g id="n-hw"><text class="k" x="133" y="218">하드웨어</text><text class="k" x="133" y="223">플랫폼</text></g>
<g id="n-skt"><text x="61" y="237">SKT Thinkplug</text></g>
<g id="n-kt"><text x="62.5" y="249">KT IoT Makers</text></g>
<g id="n-lgu"><text x="68" y="261">LGU+</text></g>
<g id="n-gat"><text x="110" y="246">Google Andriod</text><text x="110" y="251">Things</text></g>
<g id="n-sub"><text class="k" x="143" y="251">구독형</text><text class="k" x="143" y="257">플랫폼</text></g>
<g id="n-ptc"><text x="103" y="265">PTC</text><text x="103" y="270.5">ThingWorx</text></g>
</svg>
